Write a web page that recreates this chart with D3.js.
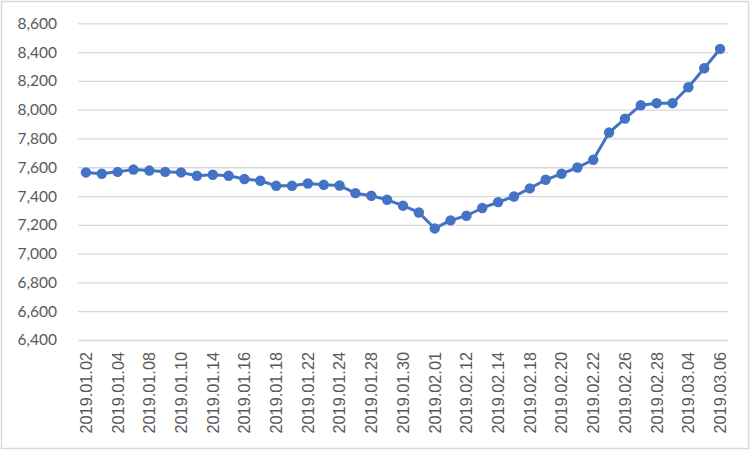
<!DOCTYPE html>
<html><head><meta charset="utf-8">
<script src="https://cdn.jsdelivr.net/npm/d3@7/dist/d3.min.js"></script>
<style>html,body{margin:0;padding:0;background:#fff;}svg{display:block;}</style>
</head><body>
<script>
const dates = ["2019.01.02","2019.01.03","2019.01.04","2019.01.07","2019.01.08","2019.01.09","2019.01.10","2019.01.11","2019.01.14","2019.01.15","2019.01.16","2019.01.17","2019.01.18","2019.01.21","2019.01.22","2019.01.23","2019.01.24","2019.01.25","2019.01.28","2019.01.29","2019.01.30","2019.01.31","2019.02.01","2019.02.11","2019.02.12","2019.02.13","2019.02.14","2019.02.15","2019.02.18","2019.02.19","2019.02.20","2019.02.21","2019.02.22","2019.02.25","2019.02.26","2019.02.27","2019.02.28","2019.03.01","2019.03.04","2019.03.05","2019.03.06"];
const values = [7564,7555,7568,7584,7577,7568,7564,7541,7548,7541,7518,7506,7471,7471,7487,7478,7473,7420,7402,7374,7333,7286,7175,7231,7263,7317,7358,7397,7453,7513,7555,7598,7652,7841,7938,8031,8045,8045,8156,8288,8422];
const yTicks = [6400,6600,6800,7000,7200,7400,7600,7800,8000,8200,8400,8600];

const W = 751, H = 452;
const m = {left:78, right:23, top:23.3, bottom:112};
const svg = d3.select("body").append("svg").attr("width",W).attr("height",H);
svg.append("rect").attr("x",1.5).attr("y",1.5).attr("width",W-4).attr("height",H-5)
  .attr("fill","#fff").attr("stroke","#d9d9d9").attr("stroke-width",1.5);

const x = d3.scaleBand().domain(dates).range([m.left, W-m.right]);
const y = d3.scaleLinear().domain([6400,8600]).range([H-m.bottom, m.top]);

const yAxis = svg.append("g").attr("transform",`translate(${m.left},0)`)
  .call(d3.axisLeft(y).tickValues(yTicks).tickSize(-(W-m.left-m.right)).tickFormat(d3.format(",")).tickPadding(21));
yAxis.select(".domain").remove();
yAxis.selectAll(".tick line").attr("stroke","#d9d9d9").attr("stroke-width",1.3);
yAxis.selectAll(".tick text").attr("fill","#595959").style("font-family","Lato, 'Open Sans', sans-serif").style("font-size","15.5px");

const labelDates = dates.filter((d,i)=> i%2===0);
const xAxis = svg.append("g").attr("transform",`translate(0,${H-m.bottom})`)
  .call(d3.axisBottom(x).tickValues(labelDates).tickSize(0).tickPadding(0));
xAxis.select(".domain").remove();
xAxis.selectAll(".tick text")
  .attr("fill","#595959")
  .style("font-family","'Liberation Sans', Arial, sans-serif").style("font-size","16.3px")
  .attr("text-anchor","end").attr("transform","rotate(-90)")
  .attr("x",-12).attr("y",0).attr("dy","0.36em");

const cx = d => x(d) + x.bandwidth()/2;
const line = d3.line().x((d,i)=>cx(dates[i])).y(d=>y(d));
svg.append("path").datum(values).attr("d",line).attr("fill","none")
  .attr("stroke","#4472C4").attr("stroke-width",3).attr("stroke-linejoin","round");
svg.selectAll("circle.pt").data(values).enter().append("circle").attr("class","pt")
  .attr("cx",(d,i)=>cx(dates[i])).attr("cy",d=>y(d)).attr("r",5.2).attr("fill","#4472C4");
</script>
</body></html>
